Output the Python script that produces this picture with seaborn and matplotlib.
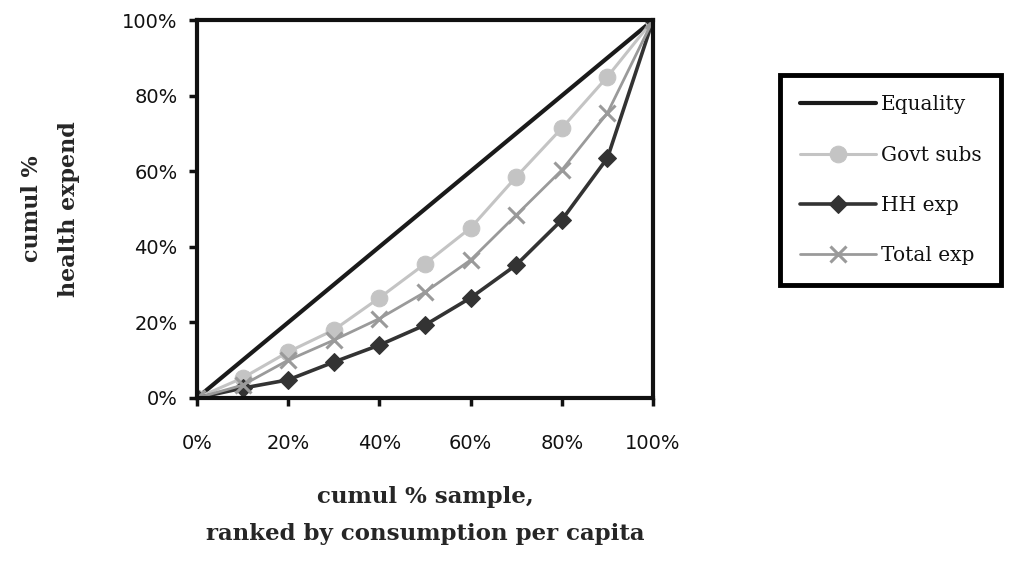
import matplotlib
matplotlib.use("Agg")
import matplotlib.pyplot as plt
import seaborn as sns
import pandas as pd

# cumulative share of sample, ranked by consumption per capita (%)
sample_pct = [0, 10, 20, 30, 40, 50, 60, 70, 80, 90, 100]
equality = [0, 10, 20, 30, 40, 50, 60, 70, 80, 90, 100]
govt_subs = [0, 5.3, 12.2, 18, 26.5, 35.5, 45, 58.5, 71.4, 85, 100]
hh_exp = [0, 2.6, 4.8, 9.5, 14, 19.3, 26.5, 35.2, 47.1, 63.5, 100]
total_exp = [0, 3.4, 10, 15.3, 21, 28, 36.5, 48.4, 60.3, 75.4, 100]

tick_vals = [0, 20, 40, 60, 80, 100]
tick_labels = ["0%", "20%", "40%", "60%", "80%", "100%"]

sns.set_style("white")
plt.rcParams["font.family"] = ["DejaVu Sans"]

fig = plt.figure(figsize=(10.12, 5.61), dpi=100)
ax = fig.add_axes([0.1947, 0.2906, 0.4506, 0.6737])

df = pd.DataFrame({"x": sample_pct, "Equality": equality, "Govt subs": govt_subs,
                   "HH exp": hh_exp, "Total exp": total_exp})

sns.lineplot(data=df, x="x", y="Equality", ax=ax, color="#1a1a1a", linewidth=3.0,
             label="Equality")
sns.lineplot(data=df, x="x", y="Govt subs", ax=ax, color="#c4c4c4", linewidth=2.2,
             marker="o", markersize=12, markeredgecolor="#c4c4c4", label="Govt subs")
sns.lineplot(data=df, x="x", y="HH exp", ax=ax, color="#333333", linewidth=2.6,
             marker="D", markersize=9, markeredgecolor="#333333", label="HH exp")
sns.lineplot(data=df, x="x", y="Total exp", ax=ax, color="#9a9a9a", linewidth=2.0,
             marker="x", markersize=11, markeredgewidth=2.2,
             markeredgecolor="#9a9a9a", label="Total exp")

ax.set_xlim(0, 100)
ax.set_ylim(0, 100)
ax.set_xticks(tick_vals)
ax.set_xticklabels(tick_labels)
ax.set_yticks(tick_vals)
ax.set_yticklabels(tick_labels)
ax.tick_params(axis="both", which="major", direction="out", length=6, width=2.5,
               labelsize=14, colors="#111111", pad=8, bottom=True, left=True)
ax.tick_params(axis="x", pad=20)
for sp in ax.spines.values():
    sp.set_linewidth(3)
    sp.set_color("#111111")
    sp.set_visible(True)

serif = ["DejaVu Serif"]
ax.set_xlabel("cumul % sample,\nranked by consumption per capita", fontsize=16.5,
              family=serif, fontweight="bold", linespacing=1.85, labelpad=24)
ax.set_ylabel("cumul %\nhealth expend", fontsize=16, family=serif,
              fontweight="bold", linespacing=1.9, labelpad=30)

leg = ax.legend(loc="upper left", bbox_to_anchor=(1.278, 0.854), frameon=True,
                fancybox=False, framealpha=1, prop={"family": serif, "size": 14.5},
                handlelength=3.8, handletextpad=0.2, borderpad=1.0,
                labelspacing=1.55, borderaxespad=0)
leg.get_frame().set_edgecolor("#000000")
leg.get_frame().set_linewidth(3.5)
for t in leg.get_texts():
    t.set_color("#111111")

fig.savefig("out.png", dpi=100)
